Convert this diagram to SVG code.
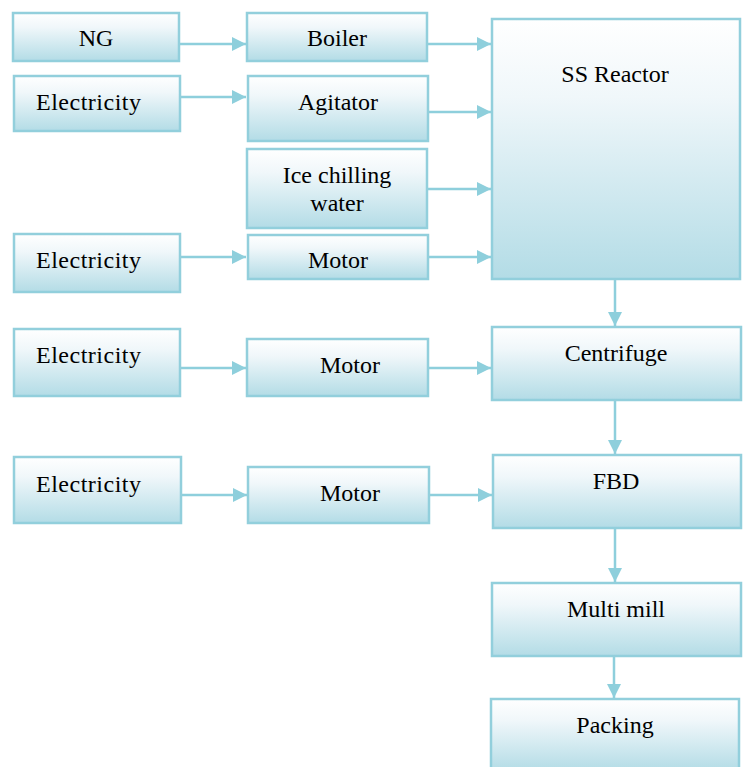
<svg xmlns="http://www.w3.org/2000/svg" width="743" height="767" viewBox="0 0 743 767">
<defs>
<linearGradient id="g" x1="0" y1="0" x2="0" y2="1">
<stop offset="0" stop-color="#ffffff"/>
<stop offset="0.3" stop-color="#f0f7fa"/>
<stop offset="1" stop-color="#b3dce6"/>
</linearGradient>
<marker id="ah" markerUnits="userSpaceOnUse" markerWidth="14" markerHeight="14" refX="14" refY="7" orient="auto">
<path d="M0,0 L14,7 L0,14 Z" fill="#8ecfdc"/>
</marker>
<style>
.box{fill:url(#g);stroke:#92cfdc;stroke-width:2.5}
.t{font-family:"Liberation Serif","Times New Roman",serif;font-size:24px;fill:#000}
.c{text-anchor:middle}
.ln{stroke:#8ecfdc;stroke-width:2.5;fill:none;marker-end:url(#ah)}
</style>
</defs>
<rect width="743" height="767" fill="#fff"/>
<g id="connectors">
<line class="ln" x1="179" y1="44" x2="246" y2="44"/>
<line class="ln" x1="180" y1="97" x2="246" y2="97"/>
<line class="ln" x1="427" y1="44" x2="491" y2="44"/>
<line class="ln" x1="428" y1="112" x2="491" y2="112"/>
<line class="ln" x1="427" y1="189" x2="491" y2="189"/>
<line class="ln" x1="180" y1="257" x2="246" y2="257"/>
<line class="ln" x1="428" y1="257" x2="491" y2="257"/>
<line class="ln" x1="180" y1="368" x2="246" y2="368"/>
<line class="ln" x1="428" y1="368" x2="491" y2="368"/>
<line class="ln" x1="181" y1="495" x2="247" y2="495"/>
<line class="ln" x1="429" y1="495" x2="492" y2="495"/>
<line class="ln" x1="615" y1="279" x2="615" y2="326"/>
<line class="ln" x1="615" y1="400" x2="615" y2="454"/>
<line class="ln" x1="615" y1="528" x2="615" y2="582"/>
<line class="ln" x1="614" y1="656" x2="614" y2="698"/>
</g>
<g id="ng"><rect class="box" x="13" y="13" width="166" height="48"/><text class="t c" x="96" y="46">NG</text></g>
<g id="elec1"><rect class="box" x="14" y="76" width="166" height="55"/><text class="t" x="36" y="110" textLength="105">Electricity</text></g>
<g id="boiler"><rect class="box" x="247" y="13" width="180" height="48"/><text class="t c" x="337" y="46">Boiler</text></g>
<g id="agitator"><rect class="box" x="248" y="76" width="180" height="65"/><text class="t c" x="338" y="110">Agitator</text></g>
<g id="ice"><rect class="box" x="247" y="149" width="180" height="79"/><text class="t c" x="337" y="183">Ice chilling</text><text class="t c" x="337" y="211">water</text></g>
<g id="reactor"><rect class="box" x="492" y="19" width="248" height="260"/><text class="t c" x="615" y="82">SS Reactor</text></g>
<g id="elec2"><rect class="box" x="14" y="234" width="166" height="58"/><text class="t" x="36" y="268" textLength="105">Electricity</text></g>
<g id="motor1"><rect class="box" x="248" y="235" width="180" height="44"/><text class="t c" x="338" y="268">Motor</text></g>
<g id="elec3"><rect class="box" x="14" y="329" width="166" height="67"/><text class="t" x="36" y="363" textLength="105">Electricity</text></g>
<g id="motor2"><rect class="box" x="247" y="339" width="181" height="57"/><text class="t c" x="350" y="373">Motor</text></g>
<g id="elec4"><rect class="box" x="14" y="457" width="167" height="66"/><text class="t" x="36" y="492" textLength="105">Electricity</text></g>
<g id="motor3"><rect class="box" x="248" y="467" width="181" height="56"/><text class="t c" x="350" y="501">Motor</text></g>
<g id="centrifuge"><rect class="box" x="492" y="327" width="249" height="73"/><text class="t c" x="616" y="361">Centrifuge</text></g>
<g id="fbd"><rect class="box" x="493" y="455" width="248" height="73"/><text class="t c" x="616" y="489">FBD</text></g>
<g id="multimill"><rect class="box" x="492" y="583" width="249" height="73"/><text class="t c" x="616" y="617">Multi mill</text></g>
<g id="packing"><rect class="box" x="491" y="699" width="248" height="72"/><text class="t c" x="615" y="733">Packing</text></g>
</svg>
